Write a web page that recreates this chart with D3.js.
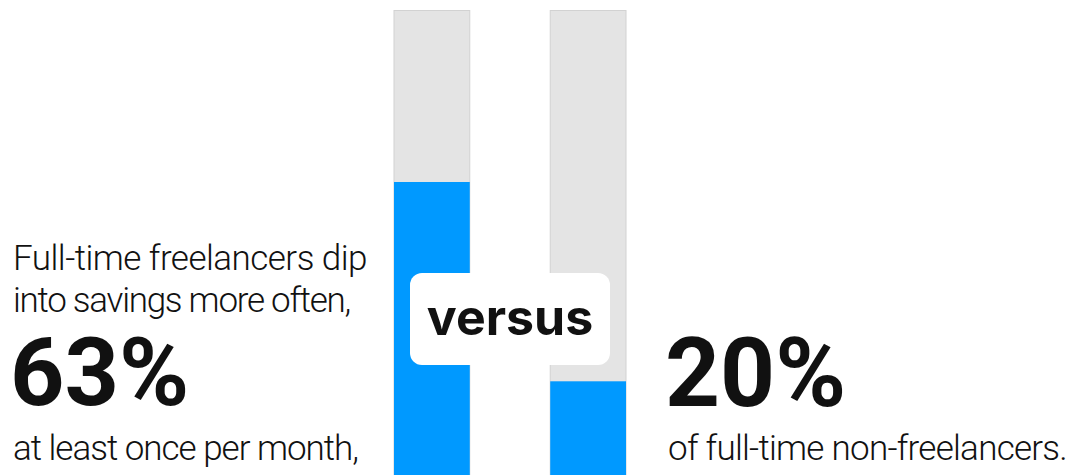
<!DOCTYPE html>
<html>
<head>
<meta charset="utf-8">
<script src="https://cdn.jsdelivr.net/npm/d3@7"></script>
<style>
  html, body { margin: 0; padding: 0; background: #fff; }
  svg { display: block; }
  text { font-family: Roboto, "Noto Sans", sans-serif; fill: #111; }
  text.badge { font-family: Inter, Roboto, sans-serif; }
</style>
</head>
<body>
<svg id="chart" width="1082" height="475"></svg>
<script>
// Share of people who dip into savings at least once per month
const groups = ["Full-time freelancers", "Full-time non-freelancers"];
const shares = [63, 20];
const valueLabels = ["63%", "20%"];
const leftIntro = ["Full-time freelancers dip", "into savings more often,"];
const leftOutro = "at least once per month,";
const rightOutro = "of full-time non-freelancers.";
const middleLabel = "versus";

const svg = d3.select("#chart");

const x = d3.scaleBand()
  .domain(groups)
  .range([394, 626])
  .paddingInner(0.515)
  .paddingOuter(0);

const y = d3.scaleLinear()
  .domain([0, 100])
  .range([474, 10.5]);

const data = groups.map((g, i) => ({ group: g, value: shares[i] }));

// full-height track
svg.append("g").selectAll("rect")
  .data(data)
  .join("rect")
  .attr("x", d => x(d.group))
  .attr("width", x.bandwidth())
  .attr("y", y(100))
  .attr("height", y(0) - y(100) + 2)
  .attr("fill", "#e4e4e4")
  .attr("stroke", "#d2d2d2")
  .attr("stroke-width", 1);

// filled share
svg.append("g").selectAll("rect")
  .data(data)
  .join("rect")
  .attr("x", d => x(d.group))
  .attr("width", x.bandwidth())
  .attr("y", d => y(d.value))
  .attr("height", d => y(0) - y(d.value) + 2)
  .attr("fill", "#0099ff");

// "versus" badge across both bars
const badge = svg.append("g");
badge.append("rect")
  .attr("x", 410).attr("y", 273)
  .attr("width", 200).attr("height", 92)
  .attr("rx", 12).attr("ry", 12)
  .attr("fill", "#fff");
badge.append("text")
  .attr("class", "badge")
  .attr("x", 510).attr("y", 335)
  .attr("text-anchor", "middle")
  .attr("font-size", 50)
  .attr("font-weight", 700)
  .text(middleLabel);

// light caption text, tracked tighter so it fits a set width
function caption(g, str, xPos, yPos, len) {
  const t = g.append("text")
    .attr("x", xPos).attr("y", yPos)
    .attr("font-size", 35)
    .attr("font-weight", 300)
    .text(str);
  const natural = t.node().getComputedTextLength();
  t.attr("letter-spacing", ((len - natural) / str.length).toFixed(3));
  return t;
}

// left-hand caption
const left = svg.append("g");
caption(left, leftIntro[0], 13, 270, 354);
caption(left, leftIntro[1], 13, 312, 337);
left.append("text")
  .attr("x", 10).attr("y", 405)
  .attr("font-size", 95)
  .attr("font-weight", 700)
  .text(valueLabels[0]);
caption(left, leftOutro, 13, 460, 345);

// right-hand caption
const right = svg.append("g");
right.append("text")
  .attr("x", 665).attr("y", 406)
  .attr("font-size", 96)
  .attr("font-weight", 700)
  .text(valueLabels[1]);
caption(right, rightOutro, 668, 460, 399);
</script>
</body>
</html>
